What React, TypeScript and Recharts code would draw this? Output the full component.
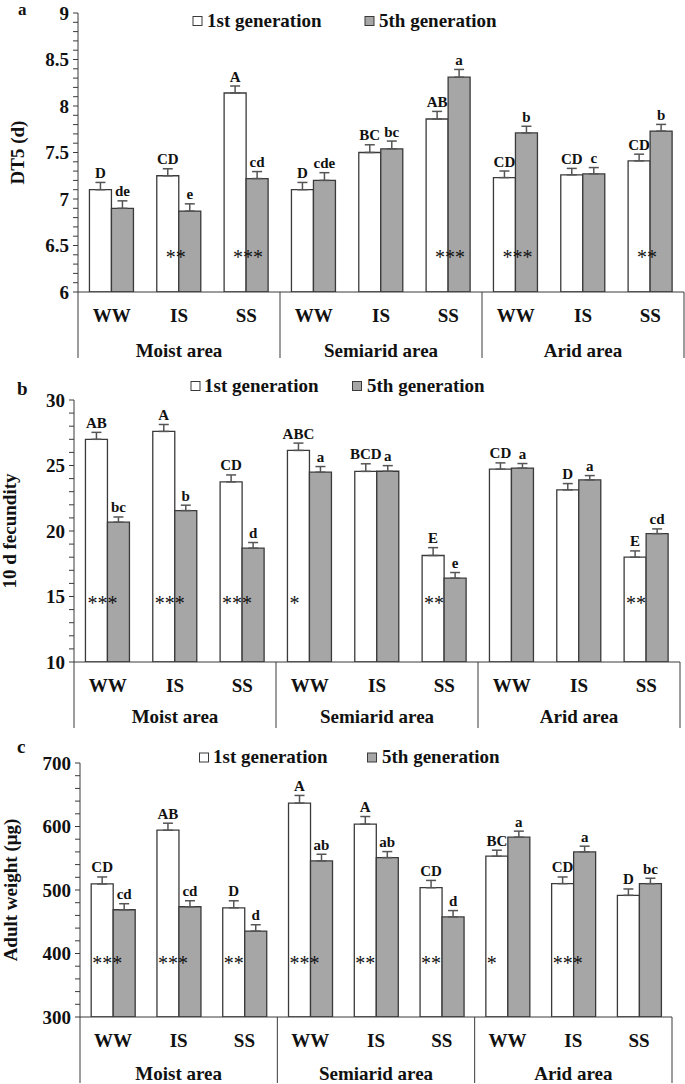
import React from "react";
import { BarChart, Bar, XAxis, YAxis, ErrorBar, LabelList } from "recharts";

const FONT = '"Liberation Serif", "Times New Roman", serif';
const INK = "#111";
const EDGE = "#3a3a3a";
const GRAY = "#a6a6a6";

const areas = ["Moist area", "Semiarid area", "Arid area"];
const treatments = ["WW", "IS", "SS", "WW", "IS", "SS", "WW", "IS", "SS"];

// a) DT5 (d)
const dt5Gen1 = [7.1, 7.25, 8.14, 7.1, 7.5, 7.86, 7.23, 7.26, 7.41];
const dt5Gen1Se = [0.078, 0.075, 0.075, 0.078, 0.083, 0.082, 0.071, 0.069, 0.072];
const dt5Gen5 = [6.9, 6.87, 7.22, 7.2, 7.54, 8.31, 7.71, 7.27, 7.73];
const dt5Gen5Se = [0.08, 0.078, 0.075, 0.083, 0.083, 0.083, 0.072, 0.068, 0.072];
const dt5Gen1Letters = ["D", "CD", "A", "D", "BC", "AB", "CD", "CD", "CD"];
const dt5Gen5Letters = ["de", "e", "cd", "cde", "bc", "a", "b", "c", "b"];
const dt5Stars = ["", "**", "***", "", "", "***", "***", "", "**"];
const dt5Ticks = [6, 6.5, 7, 7.5, 8, 8.5, 9];

// b) 10 d fecundity
const fecGen1 = [27.0, 27.6, 23.75, 26.15, 24.55, 18.13, 24.72, 23.14, 18.0];
const fecGen1Se = [0.53, 0.53, 0.53, 0.56, 0.58, 0.6, 0.48, 0.48, 0.48];
const fecGen5 = [20.67, 21.56, 18.69, 24.49, 24.56, 16.4, 24.8, 23.9, 19.8];
const fecGen5Se = [0.4, 0.41, 0.43, 0.43, 0.43, 0.43, 0.35, 0.33, 0.36];
const fecGen1Letters = ["AB", "A", "CD", "ABC", "BCD", "E", "CD", "D", "E"];
const fecGen5Letters = ["bc", "b", "d", "a", "a", "e", "a", "a", "cd"];
const fecStars = ["***", "***", "***", "*", "", "**", "", "", "**"];
const fecTicks = [10, 15, 20, 25, 30];

// c) Adult weight (μg)
const wtGen1 = [509.5, 594.2, 472, 636.9, 603.7, 503.6, 553.2, 510, 491.6];
const wtGen1Se = [11, 11, 11, 12, 12, 11.5, 9.5, 10.5, 10];
const wtGen5 = [468.9, 473.6, 435.3, 545.8, 551, 457.6, 583.2, 560, 510];
const wtGen5Se = [9.5, 9.5, 10, 10.5, 9.5, 10, 9.5, 9, 8.5];
const wtGen1Letters = ["CD", "AB", "D", "A", "A", "CD", "BC", "CD", "D"];
const wtGen5Letters = ["cd", "cd", "d", "ab", "ab", "d", "a", "a", "bc"];
const wtStars = ["***", "***", "**", "***", "**", "**", "*", "***", ""];
const wtTicks = [300, 400, 500, 600, 700];

type PanelProps = {
  top: number;
  height: number;
  marginTop: number;
  marginBottom: number;
  axisWidth: number;
  marginRight: number;
  majorTicks: number[];
  minorStep: number;
  gen1: number[];
  gen1Se: number[];
  gen5: number[];
  gen5Se: number[];
  letters1: string[];
  letters5: string[];
  stars: string[];
  starValue: number;
  starDx: number;
  areaDy: number;
};

function Panel(p: PanelProps) {
  const min = p.majorTicks[0];
  const max = p.majorTicks[p.majorTicks.length - 1];
  const slot = (685 - p.axisWidth - p.marginRight) / 9;

  const allTicks: number[] = [];
  for (let v = min; v <= max + 1e-9; v += p.minorStep) allTicks.push(Math.round(v * 1000) / 1000);

  const rows = treatments.map((t, i) => ({
    treatment: t,
    g1: p.gen1[i],
    g1Se: p.gen1Se[i],
    g5: p.gen5[i],
    g5Se: p.gen5Se[i],
    l1: p.letters1[i],
    l5: p.letters5[i],
    s: p.stars[i],
  }));

  const yTick = (props: any) => {
    const { x, y, payload } = props;
    const v = payload.value;
    const major = p.majorTicks.some((m) => Math.abs(m - v) < 1e-6);
    return (
      <g>
        <line x1={x - 5} x2={x} y1={y} y2={y} stroke={EDGE} strokeWidth={1} />
        {major && (
          <text x={x - 9} y={y} dy="0.35em" textAnchor="end" fontFamily={FONT} fontWeight="bold" fontSize={19} fill={INK}>
            {v}
          </text>
        )}
      </g>
    );
  };

  const xTick = (props: any) => {
    const { x, y, payload } = props;
    const i = props.index ?? payload.index;
    return (
      <g>
        <text x={x} y={y + 29.5} textAnchor="middle" fontFamily={FONT} fontWeight="bold" fontSize={19} fill={INK}>
          {payload.value}
        </text>
        {i % 3 === 1 && (
          <text x={x} y={y + p.areaDy} textAnchor="middle" fontFamily={FONT} fontWeight="bold" fontSize={19} fill={INK}>
            {areas[(i - 1) / 3]}
          </text>
        )}
        {i % 3 === 0 && <line x1={x - slot / 2} x2={x - slot / 2} y1={y} y2={y + 66} stroke={EDGE} strokeWidth={1} />}
        {i === 8 && <line x1={x + slot / 2} x2={x + slot / 2} y1={y} y2={y + 66} stroke={EDGE} strokeWidth={1} />}
      </g>
    );
  };

  const letter = (vals: number[], ses: number[], letters: string[]) => (props: any) => {
    const vb = props.viewBox ?? props;
    const i = props.index;
    const ppu = vb.height / (vals[i] - min);
    const capY = vb.y - ses[i] * ppu;
    return (
      <text x={vb.x + vb.width / 2} y={capY - 4.5} textAnchor="middle" fontFamily={FONT} fontWeight="bold" fontSize={15} fill={INK}>
        {letters[i]}
      </text>
    );
  };

  const starLabel = (props: any) => {
    const vb = props.viewBox ?? props;
    const i = props.index;
    if (!p.stars[i]) return null;
    const ppu = vb.height / (p.gen5[i] - min);
    const base = vb.y + vb.height;
    const cy = base - (p.starValue - min) * ppu;
    return (
      <text x={vb.x - vb.width + p.starDx} y={cy + 9.4} fontFamily={FONT} fontSize={20} fill={INK}>
        {p.stars[i]}
      </text>
    );
  };

  return (
    <div style={{ position: "absolute", left: 0, top: p.top }}>
      <BarChart
        width={685}
        height={p.height}
        data={rows}
        margin={{ top: p.marginTop, right: p.marginRight, bottom: p.marginBottom, left: 0 }}
        barGap={0}
        barCategoryGap="17%"
      >
        <XAxis
          dataKey="treatment"
          interval={0}
          height={67}
          tickLine={false}
          tickSize={0}
          tickMargin={0}
          axisLine={{ stroke: EDGE, strokeWidth: 1 }}
          tick={xTick}
        />
        <YAxis
          type="number"
          domain={[min, max]}
          ticks={allTicks}
          interval={0}
          allowDataOverflow
          width={p.axisWidth}
          tickLine={false}
          tickSize={0}
          tickMargin={0}
          axisLine={{ stroke: EDGE, strokeWidth: 1 }}
          tick={yTick}
        />
        <Bar dataKey="g1" fill="#ffffff" stroke={EDGE} strokeWidth={1.3} isAnimationActive={false}>
          <ErrorBar dataKey={(d: any) => [0, d.g1Se]} width={5} stroke="#555" strokeWidth={1.5} direction="y" />
          <LabelList dataKey="l1" content={letter(p.gen1, p.gen1Se, p.letters1)} />
        </Bar>
        <Bar dataKey="g5" fill={GRAY} stroke={EDGE} strokeWidth={1.3} isAnimationActive={false}>
          <ErrorBar dataKey={(d: any) => [0, d.g5Se]} width={5} stroke="#555" strokeWidth={1.5} direction="y" />
          <LabelList dataKey="l5" content={letter(p.gen5, p.gen5Se, p.letters5)} />
          <LabelList dataKey="s" content={starLabel} />
        </Bar>
      </BarChart>
    </div>
  );
}

function LegendRow({ y, x1, t1, x2, t2 }: { y: number; x1: number; t1: number; x2: number; t2: number }) {
  return (
    <g fontFamily={FONT} fontWeight="bold" fontSize={19} fill={INK}>
      <rect x={x1} y={y - 10} width={9} height={9} fill="#fff" stroke={EDGE} strokeWidth={1} />
      <text x={t1} y={y}>1st generation</text>
      <rect x={x2} y={y - 10} width={9} height={9} fill={GRAY} stroke={EDGE} strokeWidth={1} />
      <text x={t2} y={y}>5th generation</text>
    </g>
  );
}

export default function App() {
  return (
    <div style={{ position: "absolute", left: 0, top: 0, width: 685, height: 1084, background: "#fff", overflow: "hidden" }}>
      <Panel
        top={0}
        height={367}
        marginTop={13}
        marginBottom={8}
        axisWidth={78}
        marginRight={1}
        majorTicks={dt5Ticks}
        minorStep={0.1}
        gen1={dt5Gen1}
        gen1Se={dt5Gen1Se}
        gen5={dt5Gen5}
        gen5Se={dt5Gen5Se}
        letters1={dt5Gen1Letters}
        letters5={dt5Gen5Letters}
        stars={dt5Stars}
        starValue={6.4}
        starDx={9}
        areaDy={65}
      />
      <Panel
        top={360}
        height={376}
        marginTop={40}
        marginBottom={7}
        axisWidth={74}
        marginRight={5}
        majorTicks={fecTicks}
        minorStep={1}
        gen1={fecGen1}
        gen1Se={fecGen1Se}
        gen5={fecGen5}
        gen5Se={fecGen5Se}
        letters1={fecGen1Letters}
        letters5={fecGen5Letters}
        stars={fecStars}
        starValue={14.68}
        starDx={2}
        areaDy={61}
      />
      <Panel
        top={729}
        height={355}
        marginTop={34}
        marginBottom={0}
        axisWidth={80}
        marginRight={13}
        majorTicks={wtTicks}
        minorStep={20}
        gen1={wtGen1}
        gen1Se={wtGen1Se}
        gen5={wtGen5}
        gen5Se={wtGen5Se}
        letters1={wtGen1Letters}
        letters5={wtGen5Letters}
        stars={wtStars}
        starValue={389.5}
        starDx={1}
        areaDy={63}
      />
      <svg width={685} height={1084} style={{ position: "absolute", left: 0, top: 0, pointerEvents: "none" }}>
        <g fontFamily={FONT} fontWeight="bold" fontSize={19} fill={INK}>
          <text x={18} y={15} fontSize={17}>a</text>
          <text x={17} y={395}>b</text>
          <text x={17} y={753}>c</text>
          <text transform="translate(24,152.5) rotate(-90)" textAnchor="middle">DT5 (d)</text>
          <text transform="translate(15.5,531) rotate(-90)" textAnchor="middle">10 d fecundity</text>
          <text transform="translate(16.5,890) rotate(-90)" textAnchor="middle">Adult weight (μg)</text>
        </g>
        <LegendRow y={26.5} x1={193} t1={207} x2={365} t2={379} />
        <LegendRow y={391.5} x1={191} t1={204} x2={352.5} t2={367} />
        <LegendRow y={763} x1={199.5} t1={213} x2={367.5} t2={382} />
      </svg>
    </div>
  );
}
